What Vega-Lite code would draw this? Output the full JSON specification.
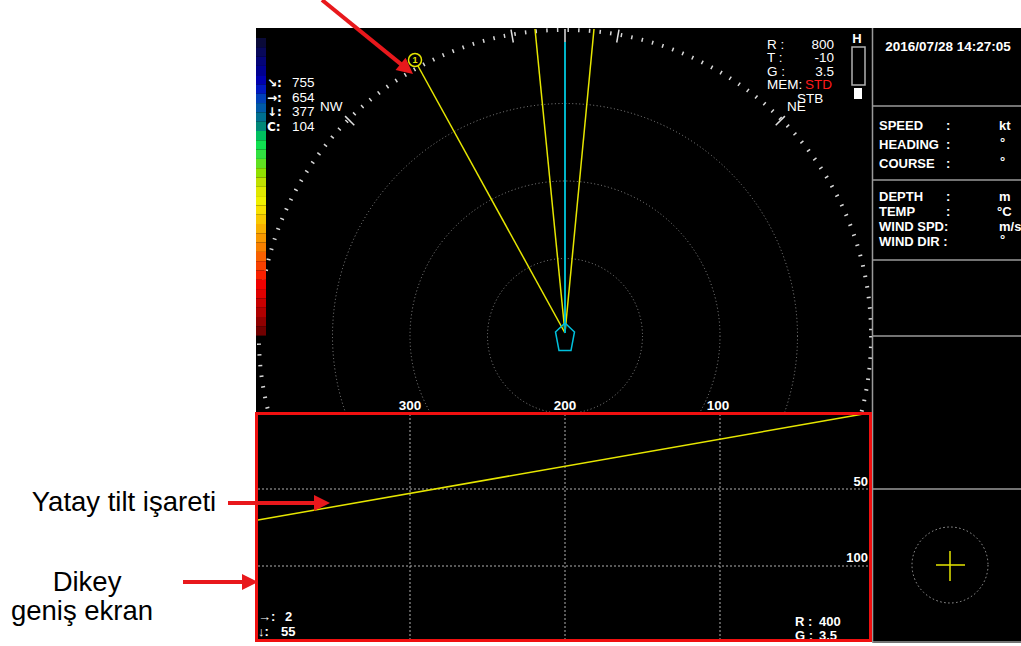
{
  "$schema": "https://vega.github.io/schema/vega-lite/v6.json",
  "width": 1021,
  "height": 646,
  "padding": 0,
  "autosize": {"type": "none"},
  "background": "#ffffff",
  "config": {"view": {"stroke": null}},
  "resolve": {"scale": {"color": "independent"}},
  "datasets": {
    "bg": [{"x": 256, "y": 28, "x2": 1021, "y2": 643}],
    "rings": [{"x": 565, "y": 336, "r": 200}, {"x": 565, "y": 336, "r": 400}, {"x": 565, "y": 336, "r": 600}],
    "tickring": [{"x": 565, "y": 336, "r": 790}],
    "longticks": [
      {"x": 513.3, "y": 42.5, "x2": 511, "y2": 29.7},
      {"x": 616.7, "y": 42.5, "x2": 619, "y2": 29.7},
      {"x": 354.3, "y": 125.3, "x2": 345.1, "y2": 116.1},
      {"x": 775.7, "y": 125.3, "x2": 784.9, "y2": 116.1}
    ],
    "colorbar": [
      {"k": 0, "x": 256, "x2": 266, "y": 38, "y2": 47.3},
      {"k": 1, "x": 256, "x2": 266, "y": 47.3, "y2": 56.6},
      {"k": 2, "x": 256, "x2": 266, "y": 56.6, "y2": 65.9},
      {"k": 3, "x": 256, "x2": 266, "y": 65.9, "y2": 75.2},
      {"k": 4, "x": 256, "x2": 266, "y": 75.2, "y2": 84.5},
      {"k": 5, "x": 256, "x2": 266, "y": 84.5, "y2": 93.8},
      {"k": 6, "x": 256, "x2": 266, "y": 93.8, "y2": 103.1},
      {"k": 7, "x": 256, "x2": 266, "y": 103.1, "y2": 112.4},
      {"k": 8, "x": 256, "x2": 266, "y": 112.4, "y2": 121.7},
      {"k": 9, "x": 256, "x2": 266, "y": 121.7, "y2": 131},
      {"k": 10, "x": 256, "x2": 266, "y": 131, "y2": 140.3},
      {"k": 11, "x": 256, "x2": 266, "y": 140.3, "y2": 149.6},
      {"k": 12, "x": 256, "x2": 266, "y": 149.6, "y2": 158.9},
      {"k": 13, "x": 256, "x2": 266, "y": 158.9, "y2": 168.2},
      {"k": 14, "x": 256, "x2": 266, "y": 168.2, "y2": 177.5},
      {"k": 15, "x": 256, "x2": 266, "y": 177.5, "y2": 186.8},
      {"k": 16, "x": 256, "x2": 266, "y": 186.8, "y2": 196.1},
      {"k": 17, "x": 256, "x2": 266, "y": 196.1, "y2": 205.4},
      {"k": 18, "x": 256, "x2": 266, "y": 205.4, "y2": 214.7},
      {"k": 19, "x": 256, "x2": 266, "y": 214.7, "y2": 224},
      {"k": 20, "x": 256, "x2": 266, "y": 224, "y2": 233.3},
      {"k": 21, "x": 256, "x2": 266, "y": 233.3, "y2": 242.6},
      {"k": 22, "x": 256, "x2": 266, "y": 242.6, "y2": 251.9},
      {"k": 23, "x": 256, "x2": 266, "y": 251.9, "y2": 261.2},
      {"k": 24, "x": 256, "x2": 266, "y": 261.2, "y2": 270.5},
      {"k": 25, "x": 256, "x2": 266, "y": 270.5, "y2": 279.8},
      {"k": 26, "x": 256, "x2": 266, "y": 279.8, "y2": 289.1},
      {"k": 27, "x": 256, "x2": 266, "y": 289.1, "y2": 298.4},
      {"k": 28, "x": 256, "x2": 266, "y": 298.4, "y2": 307.7},
      {"k": 29, "x": 256, "x2": 266, "y": 307.7, "y2": 317},
      {"k": 30, "x": 256, "x2": 266, "y": 317, "y2": 326.3},
      {"k": 31, "x": 256, "x2": 266, "y": 326.3, "y2": 335.6}
    ],
    "beams": [
      {"kind": "bearing", "x": 565, "y": 333, "x2": 418, "y2": 66},
      {"kind": "edge", "x": 565, "y": 333, "x2": 535, "y2": 29},
      {"kind": "edge", "x": 565, "y": 333, "x2": 594, "y2": 29},
      {"kind": "heading", "x": 565, "y": 333, "x2": 565, "y2": 42},
      {"kind": "north", "x": 565, "y": 42, "x2": 565, "y2": 29}
    ],
    "marker": [{"x": 415, "y": 60, "t": "1"}],
    "pentagon": [
      {"o": 0, "x": 565, "y": 323},
      {"o": 1, "x": 574.5, "y": 332},
      {"o": 2, "x": 571, "y": 350.5},
      {"o": 3, "x": 559, "y": 350.5},
      {"o": 4, "x": 555.5, "y": 332},
      {"o": 5, "x": 565, "y": 323}
    ],
    "hbox": [{"x": 852, "y": 47, "x2": 865, "y2": 85}],
    "hfill": [{"x": 854, "y": 88, "x2": 862, "y2": 99}],
    "rightbg": [{"x": 872, "y": 28, "x2": 1021, "y2": 643}],
    "rightlines": [
      {"x": 872.5, "y": 28, "x2": 872.5, "y2": 643},
      {"x": 872, "y": 106, "x2": 1021, "y2": 106},
      {"x": 872, "y": 180, "x2": 1021, "y2": 180},
      {"x": 872, "y": 260, "x2": 1021, "y2": 260},
      {"x": 872, "y": 336, "x2": 1021, "y2": 336},
      {"x": 872, "y": 489, "x2": 1021, "y2": 489},
      {"x": 872, "y": 642, "x2": 1021, "y2": 642}
    ],
    "cross": [
      {"x": 936, "y": 565, "x2": 965, "y2": 565},
      {"x": 950, "y": 551, "x2": 950, "y2": 581}
    ],
    "crosscircle": [{"x": 950, "y": 565}],
    "botbg": [{"x": 256.5, "y": 413.5, "x2": 870.5, "y2": 640.5}],
    "botstrip": [{"x": 240, "y": 641.5, "x2": 872, "y2": 646}],
    "grid": [
      {"x": 410, "y": 414, "x2": 410, "y2": 640},
      {"x": 565, "y": 414, "x2": 565, "y2": 640},
      {"x": 720, "y": 414, "x2": 720, "y2": 640},
      {"x": 258, "y": 489, "x2": 869, "y2": 489},
      {"x": 258, "y": 566, "x2": 869, "y2": 566}
    ],
    "tilt": [{"x": 258, "y": 520, "x2": 869, "y2": 413}],
    "arrowlines": [
      {"x": 322, "y": 0, "x2": 403.7, "y2": 66.4},
      {"x": 228, "y": 503, "x2": 318, "y2": 503},
      {"x": 183, "y": 582, "x2": 246, "y2": 582}
    ],
    "headdiag": [{"x": 406.8, "y": 68.9}],
    "headflat": [{"x": 322, "y": 503}, {"x": 250, "y": 582}],
    "texts": [
      {"g": "sym", "t": "↘:", "x": 267, "y": 83},
      {"g": "info", "t": "755", "x": 292, "y": 83},
      {"g": "sym", "t": "→:", "x": 267, "y": 98},
      {"g": "info", "t": "654", "x": 292, "y": 98},
      {"g": "sym", "t": "↓:", "x": 267, "y": 112},
      {"g": "info", "t": "377", "x": 292, "y": 112},
      {"g": "sym", "t": "C:", "x": 267, "y": 127},
      {"g": "info", "t": "104", "x": 292, "y": 127},
      {"g": "info", "t": "NW", "x": 320, "y": 107},
      {"g": "info", "t": "R :", "x": 767, "y": 45},
      {"g": "info", "t": "T :", "x": 767, "y": 58},
      {"g": "info", "t": "G :", "x": 767, "y": 72},
      {"g": "info", "t": "MEM:", "x": 767, "y": 85},
      {"g": "info", "t": "STB", "x": 797, "y": 99},
      {"g": "info", "t": "NE", "x": 787, "y": 107},
      {"g": "infoR", "t": "800", "x": 834, "y": 45},
      {"g": "infoR", "t": "-10", "x": 834, "y": 58},
      {"g": "infoR", "t": "3.5", "x": 834, "y": 72},
      {"g": "red", "t": "STD", "x": 805, "y": 85},
      {"g": "range", "t": "300", "x": 410, "y": 406},
      {"g": "range", "t": "200", "x": 565, "y": 406},
      {"g": "range", "t": "100", "x": 718, "y": 406},
      {"g": "H", "t": "H", "x": 857, "y": 39},
      {"g": "date", "t": "2016/07/28 14:27:05", "x": 948, "y": 47},
      {"g": "panel", "t": "SPEED", "x": 879, "y": 126},
      {"g": "panel", "t": ":", "x": 946, "y": 126},
      {"g": "panel", "t": "kt", "x": 999, "y": 126},
      {"g": "panel", "t": "HEADING", "x": 879, "y": 145},
      {"g": "panel", "t": ":", "x": 946, "y": 145},
      {"g": "panel", "t": "°", "x": 1000, "y": 143},
      {"g": "panel", "t": "COURSE", "x": 879, "y": 164},
      {"g": "panel", "t": ":", "x": 946, "y": 164},
      {"g": "panel", "t": "°", "x": 1000, "y": 162},
      {"g": "panel", "t": "DEPTH", "x": 879, "y": 197},
      {"g": "panel", "t": ":", "x": 946, "y": 197},
      {"g": "panel", "t": "m", "x": 999, "y": 197},
      {"g": "panel", "t": "TEMP", "x": 879, "y": 212},
      {"g": "panel", "t": ":", "x": 946, "y": 212},
      {"g": "panel", "t": "°C", "x": 997, "y": 212},
      {"g": "panel", "t": "WIND SPD:", "x": 879, "y": 227},
      {"g": "panel", "t": "m/s", "x": 999, "y": 227},
      {"g": "panel", "t": "WIND DIR :", "x": 879, "y": 242},
      {"g": "panel", "t": "°", "x": 1000, "y": 240},
      {"g": "bot", "t": "→:", "x": 258, "y": 617},
      {"g": "bot", "t": "2", "x": 285, "y": 617},
      {"g": "bot", "t": "↓:", "x": 258, "y": 632},
      {"g": "bot", "t": "55", "x": 281, "y": 632},
      {"g": "bot", "t": "R :", "x": 795, "y": 622},
      {"g": "bot", "t": "400", "x": 819, "y": 622},
      {"g": "bot", "t": "G :", "x": 795, "y": 636},
      {"g": "bot", "t": "3.5", "x": 819, "y": 636},
      {"g": "depth", "t": "50", "x": 868, "y": 482},
      {"g": "depth", "t": "100", "x": 868, "y": 558},
      {"g": "note", "t": "Yatay tilt işareti", "x": 124, "y": 503},
      {"g": "note", "t": "Dikey", "x": 87, "y": 583},
      {"g": "note", "t": "geniş ekran", "x": 82, "y": 612}
    ]
  },
  "encoding": {
    "x": {"field": "x", "type": "quantitative", "axis": null, "scale": {"domain": [0, 1021], "nice": false, "zero": false}},
    "y": {"field": "y", "type": "quantitative", "axis": null, "scale": {"domain": [0, 646], "nice": false, "zero": false, "reverse": true}}
  },
  "layer": [
    {"data": {"name": "bg"}, "mark": {"type": "rect", "color": "#000000"}, "encoding": {"x2": {"field": "x2"}, "y2": {"field": "y2"}}},
    {"data": {"name": "rings"}, "mark": {"type": "point", "shape": "circle", "filled": false, "stroke": "#8c8c8c", "strokeWidth": 1, "strokeDash": [1, 2.5], "opacity": 1},
     "encoding": {"size": {"field": "r", "type": "quantitative", "legend": null, "scale": {"type": "pow", "exponent": 2, "domain": [0, 800], "range": [0, 384400]}}}},
    {"data": {"name": "tickring"}, "mark": {"type": "point", "shape": "circle", "filled": false, "stroke": "#d8d8d8", "strokeWidth": 4, "strokeDash": [1.5, 9.2], "opacity": 1},
     "encoding": {"size": {"field": "r", "type": "quantitative", "legend": null, "scale": {"type": "pow", "exponent": 2, "domain": [0, 800], "range": [0, 384400]}}}},
    {"data": {"name": "longticks"}, "mark": {"type": "rule", "color": "#e0e0e0", "strokeWidth": 1.5}, "encoding": {"x2": {"field": "x2"}, "y2": {"field": "y2"}}},
    {"data": {"name": "colorbar"}, "mark": {"type": "rect"},
     "encoding": {"x2": {"field": "x2"}, "y2": {"field": "y2"},
       "color": {"field": "k", "type": "ordinal", "legend": null, "scale": {
         "domain": [0,1,2,3,4,5,6,7,8,9,10,11,12,13,14,15,16,17,18,19,20,21,22,23,24,25,26,27,28,29,30,31],
         "range": ["#0a0a38","#08085a","#040478","#000090","#0000b0","#0018c0","#0040b8","#005aa8","#007090","#008878","#00c060","#10e050","#30e040","#60e020","#90e000","#c0e000","#e0e800","#f0f000","#f8e000","#f8c800","#f8b000","#f89800","#f88000","#f86000","#f84000","#f82000","#f00000","#e00000","#c80000","#b00000","#900000","#700000"]}}}},
    {"data": {"name": "beams"}, "transform": [{"filter": "datum.kind == 'bearing' || datum.kind == 'edge'"}], "mark": {"type": "rule", "color": "#e6e600", "strokeWidth": 1.5}, "encoding": {"x2": {"field": "x2"}, "y2": {"field": "y2"}}},
    {"data": {"name": "beams"}, "transform": [{"filter": "datum.kind == 'heading'"}], "mark": {"type": "rule", "color": "#00b4c8", "strokeWidth": 2}, "encoding": {"x2": {"field": "x2"}, "y2": {"field": "y2"}}},
    {"data": {"name": "beams"}, "transform": [{"filter": "datum.kind == 'north'"}], "mark": {"type": "rule", "color": "#a8a8a8", "strokeWidth": 2}, "encoding": {"x2": {"field": "x2"}, "y2": {"field": "y2"}}},
    {"data": {"name": "marker"}, "mark": {"type": "point", "shape": "circle", "filled": false, "stroke": "#e6e600", "strokeWidth": 1.5, "size": 169, "opacity": 1}, "encoding": {}},
    {"data": {"name": "marker"}, "mark": {"type": "text", "color": "#e6e600", "font": "Liberation Sans", "fontWeight": "bold", "fontSize": 9, "align": "center", "baseline": "middle"}, "encoding": {"text": {"field": "t"}}},
    {"data": {"name": "pentagon"}, "mark": {"type": "line", "color": "#00c0dc", "strokeWidth": 1.5}, "encoding": {"order": {"field": "o", "type": "quantitative"}}},
    {"data": {"name": "texts"}, "transform": [{"filter": "datum.g == 'sym'"}], "mark": {"type": "text", "align": "left", "baseline": "middle", "font": "DejaVu Sans", "fontWeight": "bold", "fontSize": 12, "color": "#ffffff"}, "encoding": {"text": {"field": "t"}}},
    {"data": {"name": "texts"}, "transform": [{"filter": "datum.g == 'info'"}], "mark": {"type": "text", "align": "left", "baseline": "middle", "font": "Liberation Sans", "fontSize": 13.5, "color": "#ffffff"}, "encoding": {"text": {"field": "t"}}},
    {"data": {"name": "texts"}, "transform": [{"filter": "datum.g == 'infoR'"}], "mark": {"type": "text", "align": "right", "baseline": "middle", "font": "Liberation Sans", "fontSize": 13.5, "color": "#ffffff"}, "encoding": {"text": {"field": "t"}}},
    {"data": {"name": "texts"}, "transform": [{"filter": "datum.g == 'red'"}], "mark": {"type": "text", "align": "left", "baseline": "middle", "font": "Liberation Sans", "fontSize": 13.5, "color": "#ff1a1a"}, "encoding": {"text": {"field": "t"}}},
    {"data": {"name": "texts"}, "transform": [{"filter": "datum.g == 'range'"}], "mark": {"type": "text", "align": "center", "baseline": "middle", "font": "Liberation Sans", "fontWeight": "bold", "fontSize": 13.5, "color": "#ffffff"}, "encoding": {"text": {"field": "t"}}},
    {"data": {"name": "hbox"}, "mark": {"type": "rect", "fill": null, "fillOpacity": 0, "stroke": "#b0b0b0", "strokeWidth": 1.5}, "encoding": {"x2": {"field": "x2"}, "y2": {"field": "y2"}}},
    {"data": {"name": "hfill"}, "mark": {"type": "rect", "color": "#ffffff"}, "encoding": {"x2": {"field": "x2"}, "y2": {"field": "y2"}}},
    {"data": {"name": "texts"}, "transform": [{"filter": "datum.g == 'H'"}], "mark": {"type": "text", "align": "center", "baseline": "middle", "font": "Liberation Sans", "fontWeight": "bold", "fontSize": 13, "color": "#ffffff"}, "encoding": {"text": {"field": "t"}}},
    {"data": {"name": "rightbg"}, "mark": {"type": "rect", "color": "#000000"}, "encoding": {"x2": {"field": "x2"}, "y2": {"field": "y2"}}},
    {"data": {"name": "rightlines"}, "mark": {"type": "rule", "color": "#9a9a9a", "strokeWidth": 1.5}, "encoding": {"x2": {"field": "x2"}, "y2": {"field": "y2"}}},
    {"data": {"name": "texts"}, "transform": [{"filter": "datum.g == 'date'"}], "mark": {"type": "text", "align": "center", "baseline": "middle", "font": "Liberation Sans", "fontWeight": "bold", "fontSize": 13.5, "color": "#ffffff"}, "encoding": {"text": {"field": "t"}}},
    {"data": {"name": "texts"}, "transform": [{"filter": "datum.g == 'panel'"}], "mark": {"type": "text", "align": "left", "baseline": "middle", "font": "Liberation Sans", "fontWeight": "bold", "fontSize": 13, "color": "#ffffff"}, "encoding": {"text": {"field": "t"}}},
    {"data": {"name": "crosscircle"}, "mark": {"type": "point", "shape": "circle", "filled": false, "stroke": "#a0a0a0", "strokeWidth": 1, "strokeDash": [1.5, 2.5], "size": 5776, "opacity": 1}, "encoding": {}},
    {"data": {"name": "cross"}, "mark": {"type": "rule", "color": "#e6e600", "strokeWidth": 1.5}, "encoding": {"x2": {"field": "x2"}, "y2": {"field": "y2"}}},
    {"data": {"name": "botstrip"}, "mark": {"type": "rect", "color": "#ffffff"}, "encoding": {"x2": {"field": "x2"}, "y2": {"field": "y2"}}},
    {"data": {"name": "botbg"}, "mark": {"type": "rect", "color": "#000000"}, "encoding": {"x2": {"field": "x2"}, "y2": {"field": "y2"}}},
    {"data": {"name": "grid"}, "mark": {"type": "rule", "color": "#b0b0b0", "strokeWidth": 1, "strokeDash": [2, 2]}, "encoding": {"x2": {"field": "x2"}, "y2": {"field": "y2"}}},
    {"data": {"name": "tilt"}, "mark": {"type": "rule", "color": "#e6e600", "strokeWidth": 1.5}, "encoding": {"x2": {"field": "x2"}, "y2": {"field": "y2"}}},
    {"data": {"name": "texts"}, "transform": [{"filter": "datum.g == 'bot'"}], "mark": {"type": "text", "align": "left", "baseline": "middle", "font": "Liberation Sans", "fontWeight": "bold", "fontSize": 13, "color": "#ffffff"}, "encoding": {"text": {"field": "t"}}},
    {"data": {"name": "texts"}, "transform": [{"filter": "datum.g == 'depth'"}], "mark": {"type": "text", "align": "right", "baseline": "middle", "font": "Liberation Sans", "fontWeight": "bold", "fontSize": 13, "color": "#ffffff"}, "encoding": {"text": {"field": "t"}}},
    {"data": {"name": "botbg"}, "mark": {"type": "rect", "fill": null, "fillOpacity": 0, "stroke": "#f01010", "strokeWidth": 3}, "encoding": {"x2": {"field": "x2"}, "y2": {"field": "y2"}}},
    {"data": {"name": "texts"}, "transform": [{"filter": "datum.g == 'note'"}], "mark": {"type": "text", "align": "center", "baseline": "middle", "font": "Liberation Sans", "fontSize": 27.5, "color": "#000000"}, "encoding": {"text": {"field": "t"}}},
    {"data": {"name": "arrowlines"}, "mark": {"type": "rule", "color": "#e8181c", "strokeWidth": 4}, "encoding": {"x2": {"field": "x2"}, "y2": {"field": "y2"}}},
    {"data": {"name": "headdiag"}, "mark": {"type": "point", "shape": "M -1 -1 L 1 0 L -1 1 Z", "filled": true, "color": "#e8181c", "size": 256, "angle": 39, "opacity": 1}, "encoding": {}},
    {"data": {"name": "headflat"}, "mark": {"type": "point", "shape": "M -1 -1 L 1 0 L -1 1 Z", "filled": true, "color": "#e8181c", "size": 256, "angle": 0, "opacity": 1}, "encoding": {}}
  ]
}
